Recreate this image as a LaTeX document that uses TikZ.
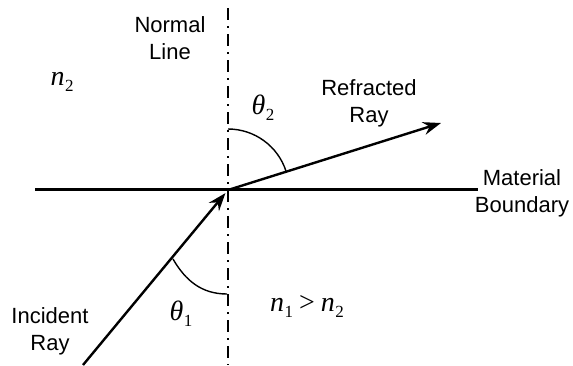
\documentclass[tikz,border=0pt]{standalone}
\usepackage{fontspec}
\setmainfont{Liberation Sans}
\newfontfamily\tms{Liberation Serif}
\usetikzlibrary{arrows.meta,calc}
\newcommand{\sym}[2]{{\tms\itshape #1}\kern0.5pt\raisebox{-6pt}{\tms\fontsize{17}{17}\selectfont #2}}
\begin{document}
\begin{tikzpicture}[x=1pt,y=1pt,
  lbl/.style={font=\fontsize{22}{27}\selectfont, align=center, inner sep=0pt},
  mth/.style={font=\fontsize{28}{30}\selectfont, inner sep=0pt},
  ray/.style={line width=2.4pt},
  tip/.style={-{Stealth[length=18pt,width=13pt,inset=6pt]}}
]
\useasboundingbox (0,0) rectangle (573,-365);
\coordinate (O) at (228,-190);
\coordinate (ntop) at (228,-8);
\coordinate (nbot) at (228,-365);
\coordinate (bl) at (35,-189);
\coordinate (br) at (478,-189);
\coordinate (inc) at (83,-365);
\coordinate (ref) at (441,-123);
\draw[line width=1.6pt, dash pattern=on 12pt off 6pt on 2pt off 6pt] (ntop) -- (nbot);
\draw[line width=3pt] (bl) -- (br);
\draw[ray, tip] (inc) -- ($(O)!4pt!(inc)$);
\draw[ray, tip] (O) -- (ref);
\draw[line width=1.4pt] (228,-129) arc[start angle=90, end angle=17.8, radius=61];
\draw[line width=1.4pt] (173,-259) to[out=-60, in=180] (227,-294);
\node[lbl] (nl) at (170,-38) {Normal\\Line};
\node[lbl] (rr) at (369,-103) {Refracted\\Ray};
\node[lbl] (mb) at (522,-193) {Material\\Boundary};
\node[lbl] (ir) at (50,-331) {Incident\\Ray};
\node[mth] (n2) at (62,-82) {\sym{n}{2}};
\node[mth] (t2) at (263,-108) {\sym{θ}{2}};
\node[mth] (t1) at (181,-314) {\sym{θ}{1}};
\node[mth] (n12) at (307,-306) {\sym{n}{1}\hspace{6pt}{\tms>}\hspace{6pt}\sym{n}{2}};
\end{tikzpicture}
\end{document}
